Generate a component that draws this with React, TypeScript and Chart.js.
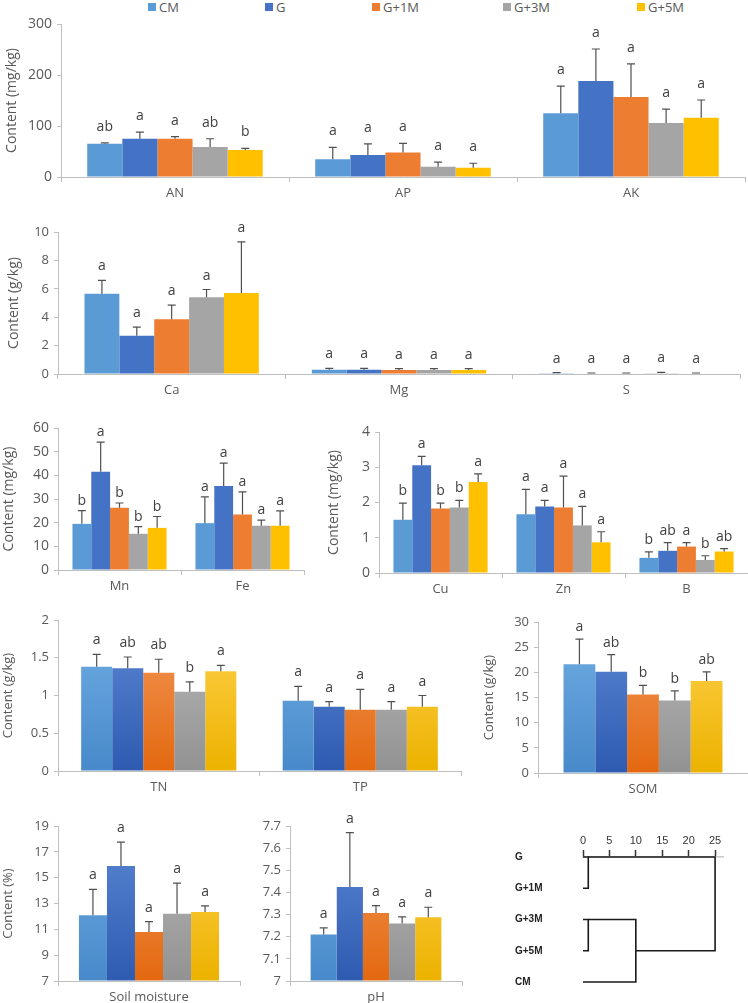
import React, { useEffect, useRef } from 'react';
import { Chart, registerables } from 'chart.js';

Chart.register(...registerables);

const FONT = '"Open Sans", "Noto Sans", sans-serif';
const TEXT = '#595959';
const AXIS = '#BFBFBF';
const ERR = '#505050';
const LETTER = '#404040';

const treatments = ['CM', 'G', 'G+1M', 'G+3M', 'G+5M'];
const flatColors = ['#5B9BD5', '#4472C4', '#ED7D31', '#A5A5A5', '#FFC000'];
const gradTop = ['#72AEE3', '#5B88D4', '#F3995A', '#BABABA', '#FFD24F'];
const gradBottom = ['#4789CA', '#2E5BB0', '#E3680F', '#929292', '#ECB200'];

// ---- AN / AP / AK (mg/kg)
const macroCats = ['AN', 'AP', 'AK'];
const macroMean = [[65, 35, 125], [75, 43, 188], [75, 48, 157], [59, 20, 106], [53, 18, 116]];
const macroSD = [[2, 23, 53], [13, 22, 63], [4, 18, 65], [16, 9, 27], [3, 9, 35]];
const macroLetters = [['ab', 'a', 'a'], ['a', 'a', 'a'], ['a', 'a', 'a'], ['ab', 'a', 'a'], ['b', 'a', 'a']];
const macroTicks = [0, 300, 100];

// ---- Ca / Mg / S (g/kg)
const secCats = ['Ca', 'Mg', 'S'];
const secMean = [[5.65, 0.3, 0.06], [2.7, 0.3, 0.04], [3.85, 0.28, 0.04], [5.4, 0.28, 0.05], [5.7, 0.28, 0.04]];
const secSD = [[0.95, 0.1, 0.04], [0.6, 0.1, 0.03], [1.0, 0.1, 0.03], [0.55, 0.1, 0.07], [3.6, 0.1, 0.03]];
const secLetters = [['a', 'a', 'a'], ['a', 'a', 'a'], ['a', 'a', 'a'], ['a', 'a', 'a'], ['a', 'a', 'a']];
const secTicks = [0, 10, 2];

// ---- Mn / Fe (mg/kg)
const mnFeCats = ['Mn', 'Fe'];
const mnFeMean = [[19.5, 19.8], [41.5, 35.5], [26.3, 23.5], [15.3, 18.7], [17.8, 18.7]];
const mnFeSD = [[5.6, 11.1], [12.5, 9.7], [2.0, 9.5], [3.0, 2.4], [4.8, 6.3]];
const mnFeLetters = [['b', 'a'], ['a', 'a'], ['b', 'a'], ['b', 'a'], ['b', 'a']];
const mnFeTicks = [0, 60, 10];

// ---- Cu / Zn / B (mg/kg)
const cuZnBCats = ['Cu', 'Zn', 'B'];
const cuZnBMean = [[1.51, 1.67, 0.43], [3.06, 1.89, 0.63], [1.83, 1.86, 0.75], [1.86, 1.35, 0.37], [2.58, 0.87, 0.61]];
const cuZnBSD = [[0.47, 0.7, 0.17], [0.25, 0.17, 0.23], [0.15, 0.89, 0.11], [0.2, 0.54, 0.12], [0.23, 0.3, 0.08]];
const cuZnBLetters = [['b', 'a', 'b'], ['a', 'a', 'ab'], ['b', 'a', 'a'], ['b', 'a', 'b'], ['a', 'a', 'ab']];
const cuZnBTicks = [0, 4, 1];

// ---- TN / TP (g/kg)
const ntpCats = ['TN', 'TP'];
const ntpMean = [[1.38, 0.93], [1.36, 0.85], [1.3, 0.81], [1.05, 0.81], [1.32, 0.85]];
const ntpSD = [[0.165, 0.19], [0.15, 0.07], [0.18, 0.27], [0.13, 0.11], [0.08, 0.15]];
const ntpLetters = [['a', 'a'], ['ab', 'a'], ['ab', 'a'], ['b', 'a'], ['a', 'a']];
const ntpTicks = [0, 2, 0.5];

// ---- SOM (g/kg)
const somCats = ['SOM'];
const somMean = [21.6, 20.1, 15.6, 14.4, 18.3];
const somSD = [5.0, 3.4, 1.8, 1.9, 1.8];
const somLetters = ['a', 'ab', 'b', 'b', 'ab'];
const somTicks = [0, 30, 5];

// ---- Soil moisture (%)
const moistCats = ['Soil moisture'];
const moistMean = [12.1, 15.9, 10.8, 12.2, 12.35];
const moistSD = [2.0, 1.85, 0.8, 2.37, 0.47];
const moistLetters = ['a', 'a', 'a', 'a', 'a'];
const moistTicks = [7, 19, 2];

// ---- pH
const phCats = ['pH'];
const phMean = [7.21, 7.425, 7.307, 7.26, 7.288];
const phSD = [0.03, 0.245, 0.033, 0.03, 0.045];
const phLetters = ['a', 'a', 'a', 'a', 'a'];
const phTicks = [7, 7.7, 0.1];

// ---- Cluster dendrogram
const dendroLeaves = ['G', 'G+1M', 'G+3M', 'G+5M', 'CM'];
const dendroTicks = [0, 25, 5];
// each merge: upper row, lower row, distance of upper branch start, distance of lower branch start, merge distance
const mergeUpper = [0, 2, 2, 0];
const mergeLower = [1, 3, 4, 3];
const mergeUpperFrom = [0, 0, 1, 1];
const mergeLowerFrom = [0, 0, 0, 10];
const mergeHeight = [1, 1, 10, 25];

const legendX = [148, 265, 372, 503, 637];

const wrap = (a: any[]) => a.map((v) => [v]);

type PanelCfg = {
  left: number; top: number; width: number; height: number;
  cats: string[]; mean: number[][]; sd: number[][]; letters: string[][]; ticks: number[];
  yTitle?: string; titlePad: number; yAxisW: number; xAxisH: number; padTop: number; padRight: number;
  catPct: number; gradient: boolean; letterGap: number; yFont: number; xFont: number; titleFont: number;
};

const panels: PanelCfg[] = [
  { left: 0, top: 0, width: 748, height: 205, cats: macroCats, mean: macroMean, sd: macroSD, letters: macroLetters, ticks: macroTicks,
    yTitle: 'Content (mg/kg)', titlePad: 4, yAxisW: 61, xAxisH: 28, padTop: 24, padRight: 3, catPct: 0.77, gradient: false, letterGap: 12, yFont: 14, xFont: 13, titleFont: 14 },
  { left: 0, top: 200, width: 748, height: 205, cats: secCats, mean: secMean, sd: secSD, letters: secLetters, ticks: secTicks,
    yTitle: 'Content (g/kg)', titlePad: 6, yAxisW: 58, xAxisH: 31, padTop: 32, padRight: 8, catPct: 0.767, gradient: false, letterGap: 10, yFont: 13, xFont: 13, titleFont: 14 },
  { left: 0, top: 400, width: 310, height: 200, cats: mnFeCats, mean: mnFeMean, sd: mnFeSD, letters: mnFeLetters, ticks: mnFeTicks,
    yTitle: 'Content (mg/kg)', titlePad: 1, yAxisW: 58, xAxisH: 30, padTop: 28, padRight: 6, catPct: 0.765, gradient: false, letterGap: 6, yFont: 14, xFont: 13, titleFont: 14 },
  { left: 310, top: 400, width: 438, height: 200, cats: cuZnBCats, mean: cuZnBMean, sd: cuZnBSD, letters: cuZnBLetters, ticks: cuZnBTicks,
    yTitle: 'Content (mg/kg)', titlePad: 16, yAxisW: 69, xAxisH: 27, padTop: 32, padRight: 0, catPct: 0.765, gradient: false, letterGap: 8, yFont: 14, xFont: 13, titleFont: 14 },
  { left: 0, top: 600, width: 470, height: 200, cats: ntpCats, mean: ntpMean, sd: ntpSD, letters: ntpLetters, ticks: ntpTicks,
    yTitle: 'Content (g/kg)', titlePad: 0, yAxisW: 58, xAxisH: 29, padTop: 20, padRight: 9, catPct: 0.77, gradient: true, letterGap: 10, yFont: 13, xFont: 13, titleFont: 13 },
  { left: 470, top: 600, width: 278, height: 200, cats: somCats, mean: wrap(somMean), sd: wrap(somSD), letters: wrap(somLetters), ticks: somTicks,
    yTitle: 'Content (g/kg)', titlePad: 11, yAxisW: 68, xAxisH: 27, padTop: 22, padRight: 0, catPct: 0.757, gradient: true, letterGap: 8, yFont: 13, xFont: 13, titleFont: 13 },
  { left: 0, top: 800, width: 250, height: 203, cats: moistCats, mean: wrap(moistMean), sd: wrap(moistSD), letters: wrap(moistLetters), ticks: moistTicks,
    yTitle: 'Content (%)', titlePad: 0, yAxisW: 58, xAxisH: 22, padTop: 26, padRight: 10, catPct: 0.77, gradient: true, letterGap: 10, yFont: 13, xFont: 13, titleFont: 13 },
  { left: 250, top: 800, width: 220, height: 203, cats: phCats, mean: wrap(phMean), sd: wrap(phSD), letters: wrap(phLetters), ticks: phTicks,
    titlePad: 0, yAxisW: 40, xAxisH: 22, padTop: 26, padRight: 8, catPct: 0.76, gradient: true, letterGap: 10, yFont: 13, xFont: 13, titleFont: 13 },
];

const fmt = (v: any) => String(Math.round(Number(v) * 100) / 100);

function makeErrPlugin(p: PanelCfg) {
  return {
    id: 'errLetters',
    afterDatasetsDraw(chart: any) {
      const ctx = chart.ctx;
      const ys = chart.scales.y;
      ctx.save();
      treatments.forEach((_, i) => {
        const meta = chart.getDatasetMeta(i);
        meta.data.forEach((el: any, j: number) => {
          const top = ys.getPixelForValue(p.mean[i][j] + p.sd[i][j]);
          const x = el.x;
          ctx.strokeStyle = ERR;
          ctx.lineWidth = 1.2;
          ctx.beginPath();
          ctx.moveTo(x, el.y);
          ctx.lineTo(x, top);
          ctx.moveTo(x - 4, top);
          ctx.lineTo(x + 4, top);
          ctx.stroke();
          ctx.fillStyle = LETTER;
          ctx.font = `14px ${FONT}`;
          ctx.textAlign = 'center';
          ctx.textBaseline = 'alphabetic';
          ctx.fillText(p.letters[i][j], x, top - p.letterGap);
        });
      });
      ctx.restore();
    },
  };
}

function BarPanel({ p }: { p: PanelCfg }) {
  const ref = useRef<HTMLCanvasElement>(null);
  useEffect(() => {
    const chart = new Chart(ref.current as HTMLCanvasElement, {
      type: 'bar',
      data: {
        labels: p.cats,
        datasets: treatments.map((t, i) => ({
          label: t,
          data: p.mean[i],
          backgroundColor: p.gradient
            ? (c: any) => {
                const ca = c.chart.chartArea;
                if (!ca) return flatColors[i];
                const g = c.chart.ctx.createLinearGradient(0, ca.top, 0, ca.bottom);
                g.addColorStop(0, gradTop[i]);
                g.addColorStop(1, gradBottom[i]);
                return g;
              }
            : flatColors[i],
          borderWidth: 0,
          barPercentage: 1,
          categoryPercentage: p.catPct,
          base: p.ticks[0],
        })),
      },
      options: {
        responsive: false,
        animation: false,
        devicePixelRatio: 1,
        layout: { padding: { top: p.padTop, right: p.padRight, left: 0, bottom: 0 } },
        plugins: { legend: { display: false }, tooltip: { enabled: false } },
        scales: {
          x: {
            grid: { display: true, drawOnChartArea: false, tickLength: 5, color: AXIS, offset: true },
            border: { color: AXIS },
            ticks: { font: { family: FONT, size: p.xFont }, color: TEXT, padding: 3, maxRotation: 0 },
            afterFit: (s: any) => { s.height = p.xAxisH; },
          },
          y: {
            min: p.ticks[0],
            max: p.ticks[1],
            grid: { display: true, drawOnChartArea: false, tickLength: 4, color: AXIS },
            border: { color: AXIS },
            ticks: { stepSize: p.ticks[2], font: { family: FONT, size: p.yFont }, color: TEXT, padding: 5, callback: fmt },
            title: p.yTitle
              ? { display: true, text: p.yTitle, color: TEXT, font: { family: FONT, size: p.titleFont }, padding: { top: p.titlePad, bottom: 0 } }
              : { display: false },
            afterFit: (s: any) => { s.width = p.yAxisW; },
          },
        },
      } as any,
      plugins: [makeErrPlugin(p)],
    } as any);
    return () => chart.destroy();
  }, []);
  return (
    <canvas
      ref={ref}
      width={p.width}
      height={p.height}
      style={{ position: 'absolute', left: p.left, top: p.top, width: p.width, height: p.height }}
    />
  );
}

function Dendrogram() {
  const ref = useRef<HTMLCanvasElement>(null);
  useEffect(() => {
    const datasets = mergeHeight.map((h, k) => ({
      data: [
        { x: mergeUpperFrom[k], y: mergeUpper[k] },
        { x: h, y: mergeUpper[k] },
        { x: h, y: mergeLower[k] },
        { x: mergeLowerFrom[k], y: mergeLower[k] },
      ],
      showLine: true,
      borderColor: '#1a1a1a',
      borderWidth: 1.6,
      pointRadius: 0,
      tension: 0,
      clip: false,
    }));
    const chart = new Chart(ref.current as HTMLCanvasElement, {
      type: 'scatter',
      data: { datasets },
      options: {
        responsive: false,
        animation: false,
        devicePixelRatio: 1,
        layout: { padding: { top: 0, right: 25, left: 45, bottom: 21 } },
        plugins: { legend: { display: false }, tooltip: { enabled: false } },
        scales: {
          x: {
            type: 'linear',
            position: 'top',
            min: dendroTicks[0],
            max: 26.5,
            grid: { display: true, drawOnChartArea: false, tickLength: 7, tickColor: '#333', tickWidth: 1.5 },
            border: { color: '#c8c8c8', width: 1.5 },
            ticks: { stepSize: dendroTicks[2], includeBounds: false, padding: 2, color: '#333', font: { family: '"Liberation Sans", Arial, sans-serif', size: 11 } },
            afterFit: (s: any) => { s.height = 57; },
          },
          y: {
            type: 'linear',
            min: 0,
            max: dendroLeaves.length - 1,
            reverse: true,
            grid: { display: false },
            border: { display: false },
            ticks: {
              stepSize: 1,
              crossAlign: 'far',
              color: '#222',
              font: { family: '"Liberation Sans", Arial, sans-serif', size: 10, weight: 'bold' },
              callback: (v: any) => dendroLeaves[Number(v)] ?? '',
            },
            afterFit: (s: any) => { s.width = 68; },
          },
        },
      } as any,
    } as any);
    return () => chart.destroy();
  }, []);
  return (
    <canvas ref={ref} width={278} height={203} style={{ position: 'absolute', left: 470, top: 800, width: 278, height: 203 }} />
  );
}

export default function App() {
  return (
    <div style={{ position: 'absolute', left: 0, top: 0, width: 748, height: 1003, background: '#fff', overflow: 'hidden' }}>
      {treatments.map((t, i) => (
        <div key={t} style={{ position: 'absolute', left: legendX[i], top: 0, height: 14, display: 'flex', alignItems: 'center', fontFamily: FONT, fontSize: 13, color: TEXT, whiteSpace: 'nowrap' }}>
          <span style={{ display: 'inline-block', width: 8, height: 8, background: flatColors[i], marginRight: 3 }} />
          <span>{t}</span>
        </div>
      ))}
      {panels.map((p, k) => (
        <BarPanel key={k} p={p} />
      ))}
      <Dendrogram />
    </div>
  );
}
